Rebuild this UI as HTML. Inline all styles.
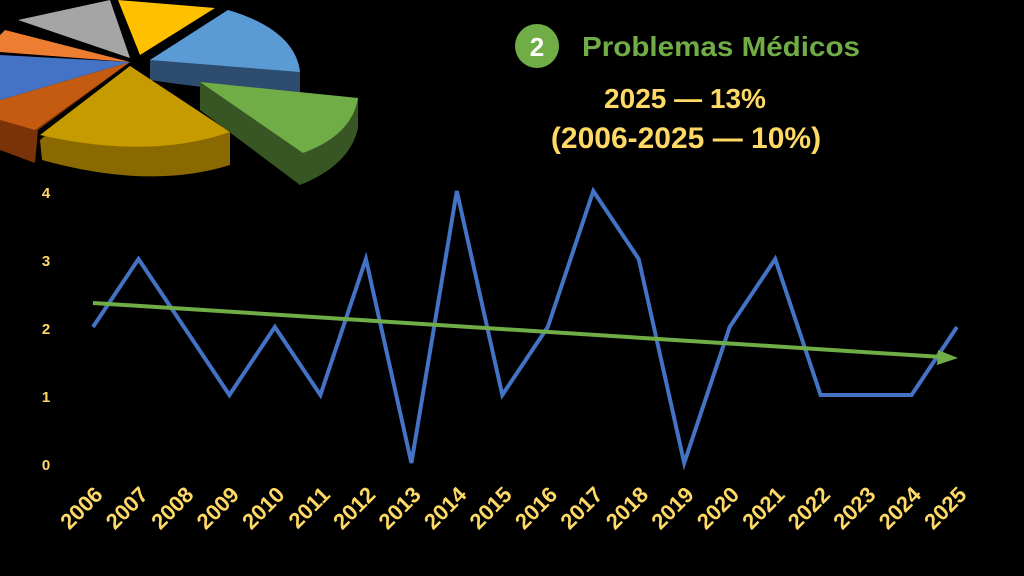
<!DOCTYPE html><html><head><meta charset="utf-8"><style>body{margin:0;background:#000;width:1024px;height:576px;overflow:hidden}svg{display:block}</style></head><body>
<svg width="1024" height="576" viewBox="0 0 1024 576" font-family="Liberation Sans, sans-serif">
<rect width="1024" height="576" fill="#000"/>
<path d="M0,118 L0,150 L35,163 L38,130 L130,62 Z" fill="#7a3208"/>
<path d="M0,100 L130,62 L35,130 L0,120 Z" fill="#c55a11"/>
<path d="M0,55 L130,62 L0,100 Z" fill="#4472c4"/>
<path d="M5,30 L130,62 L0,52 L0,35 Z" fill="#ed7d31"/>
<path d="M18,20 L110,0 L130,58 Z" fill="#a5a5a5"/>
<path d="M118,0 L215,8 L140,55 Z" fill="#ffc000"/>
<path d="M150,60 L228,10 Q295,30 300,72 L300,92 Q250,95 150,80 Z" fill="#2e4d6e"/>
<path d="M150,60 L228,10 Q295,30 300,72 Z" fill="#5b9bd5"/>
<path d="M40,140 L130,66 L230,132 L230,165 Q150,190 42,160 Z" fill="#8a6a00"/>
<path d="M40,135 L130,66 L230,132 Q150,160 40,135 Z" fill="#c59b00"/>
<path d="M200,82 L200,110 L300,185 Q350,165 358,128 L358,98 Z" fill="#375623"/>
<path d="M200,82 L358,98 Q352,135 303,153 Z" fill="#70ad47"/>
<circle cx="537" cy="46" r="22" fill="#70ad47"/>
<text x="537" y="56" text-anchor="middle" font-size="26" font-weight="bold" fill="#fff">2</text>
<text x="582" y="56" font-size="28" font-weight="bold" fill="#70ad47" textLength="278" lengthAdjust="spacingAndGlyphs">Problemas Médicos</text>
<text x="685" y="108" text-anchor="middle" font-size="28" font-weight="bold" fill="#ffd966">2025 — 13%</text>
<text x="686" y="148" text-anchor="middle" font-size="30" font-weight="bold" fill="#ffd966">(2006-2025 — 10%)</text>
<g font-size="15" font-weight="bold" fill="#ffd966" text-anchor="middle">
<text x="46" y="198">4</text><text x="46" y="266">3</text><text x="46" y="334">2</text><text x="46" y="402">1</text><text x="46" y="470">0</text>
</g>
<polyline fill="none" stroke="#4472c4" stroke-width="4" stroke-linejoin="miter" points="93,327 138.5,259 184,327 229.4,395 274.9,327 320.4,395 365.9,259 411.4,463 456.8,191 502.3,395 547.8,327 593.3,191 638.7,259 684.2,463 729.7,327 775.2,259 820.6,395 866.1,395 911.6,395 957,327"/>
<line x1="93" y1="303" x2="942" y2="357" stroke="#70ad47" stroke-width="4"/>
<polygon points="958,358 938,350 937,365" fill="#70ad47"/>
<g font-size="22" font-weight="bold" fill="#ffd966" text-anchor="end" id="xl"></g>
</svg>
<script>
var g=document.getElementById('xl');
for(var i=0;i<20;i++){var x=104+i*45.47,y=496;var t=document.createElementNS('http://www.w3.org/2000/svg','text');t.setAttribute('x',x);t.setAttribute('y',y);t.setAttribute('transform','rotate(-45 '+x+' '+y+')');t.textContent=2006+i;g.appendChild(t);}
</script>
</body></html>
